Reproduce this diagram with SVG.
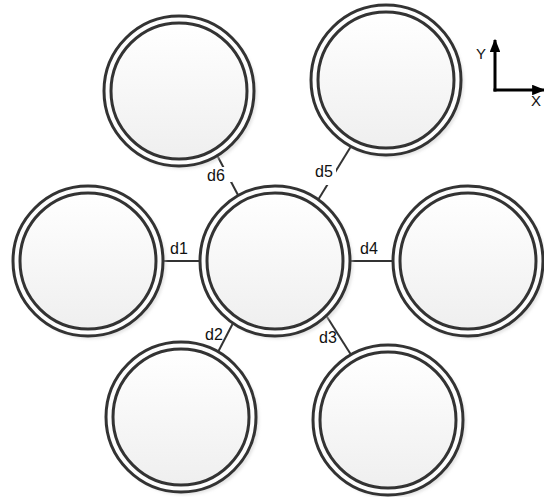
<svg xmlns="http://www.w3.org/2000/svg" width="544" height="497" viewBox="0 0 544 497">
<style>
.ring{fill:#fdfdfd;stroke:#333;stroke-width:3}
.inner{fill:url(#g);stroke:#333;stroke-width:3}
.shadow{fill:#c8c8c8;opacity:0.5;filter:url(#blur)}
.conn{stroke:#333;stroke-width:2;fill:none}
.lbl{font-family:"Liberation Sans",Arial,sans-serif;font-size:16px;fill:#111}
.ax{stroke:#000;stroke-width:3;fill:none}
.bg{fill:#fff}
</style>
<defs>
<linearGradient id="g" x1="0" y1="0" x2="0" y2="1">
<stop offset="0" stop-color="#ffffff"/>
<stop offset="1" stop-color="#efefef"/>
</linearGradient>
<filter id="blur" x="-10%" y="-10%" width="120%" height="120%"><feGaussianBlur stdDeviation="1.5"/></filter>
<marker id="arr" viewBox="0 0 10 8" markerWidth="4.4" markerHeight="3.6" refX="9" refY="4" orient="auto"><path d="M0,0 L10,4 L0,8 z" fill="#000"/></marker>
<g id="node-shape">
<circle class="shadow" cx="3" cy="3" r="75"/>
<circle class="ring" cx="0" cy="0" r="75"/>
<circle class="inner" cx="0" cy="0" r="68"/>
</g>
</defs>
<g id="connectors">
<line class="conn" x1="150" y1="261" x2="215" y2="261"/>
<line class="conn" x1="335" y1="261" x2="405" y2="261"/>
<line class="conn" x1="198.5" y1="120" x2="256.4" y2="230"/>
<line class="conn" x1="308.8" y1="215" x2="361" y2="130"/>
<line class="conn" x1="245" y1="300" x2="208.7" y2="370"/>
<line class="conn" x1="310" y1="290" x2="367" y2="380"/>
</g>
<g id="node-center"><use href="#node-shape" x="275" y="261"/></g>
<g id="node-left"><use href="#node-shape" x="88" y="261"/></g>
<g id="node-right"><use href="#node-shape" x="468" y="261"/></g>
<g id="node-topleft"><use href="#node-shape" x="179" y="91"/></g>
<g id="node-topright"><use href="#node-shape" x="386" y="80"/></g>
<g id="node-bottomleft"><use href="#node-shape" x="181" y="417"/></g>
<g id="node-bottomright"><use href="#node-shape" x="388" y="420"/></g>
<g id="labels">
<text class="lbl" x="170" y="254">d1</text>
<text class="lbl" x="360" y="254">d4</text>
<rect class="bg" x="206" y="167" width="26" height="15"/>
<text class="lbl" x="207" y="181">d6</text>
<rect class="bg" x="314" y="163" width="22" height="22"/>
<text class="lbl" x="315" y="177">d5</text>
<text class="lbl" x="205" y="340">d2</text>
<text class="lbl" x="319" y="343">d3</text>
</g>
<g id="axes">
<line class="ax" x1="495" y1="91.5" x2="495" y2="40" marker-end="url(#arr)"/>
<line class="ax" x1="493.5" y1="90" x2="544" y2="90" marker-end="url(#arr)"/>
<text class="lbl" x="476" y="59" style="font-size:15px">Y</text>
<text class="lbl" x="531" y="106" style="font-size:15px">X</text>
</g>
</svg>
